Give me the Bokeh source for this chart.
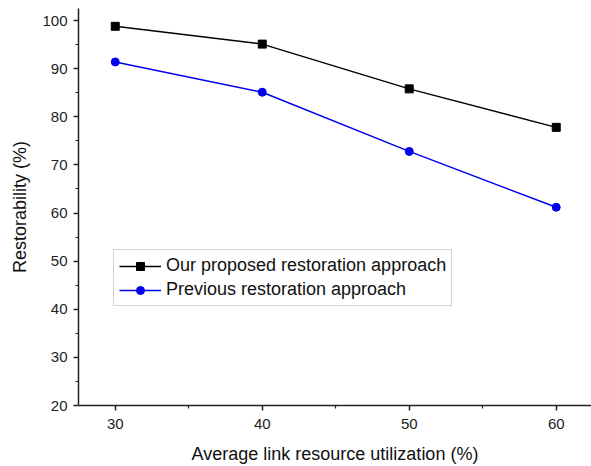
from bokeh.plotting import figure
from bokeh.models import Range1d, FixedTicker, Legend, LegendItem
from bokeh.embed import file_html
from bokeh.resources import INLINE

utilization = [30, 40, 50, 60]
proposed = [98.8, 95.1, 85.8, 77.8]
previous = [91.4, 85.1, 72.8, 61.2]
x_ticks = [30, 40, 50, 60]
x_minor = [35, 45, 55]
y_ticks = [20, 30, 40, 50, 60, 70, 80, 90, 100]
y_minor = [25, 35, 45, 55, 65, 75, 85, 95]

FONT = "Liberation Sans"

p = figure(width=591, height=466, output_backend="svg", toolbar_location=None,
           x_range=Range1d(27.5, 62.4), y_range=Range1d(20, 102.5),
           min_border_left=78, min_border_right=0, min_border_top=8, min_border_bottom=60)
p.outline_line_color = None
p.xgrid.visible = False
p.ygrid.visible = False
p.background_fill_color = "white"
p.border_fill_color = "white"

for ax, t, m in ((p.xaxis[0], x_ticks, x_minor), (p.yaxis[0], y_ticks, y_minor)):
    ax.ticker = FixedTicker(ticks=t, minor_ticks=m)
    ax.axis_line_width = 1.5
    ax.axis_line_color = "#222222"
    ax.major_tick_line_color = "#222222"
    ax.minor_tick_line_color = "#222222"
    ax.major_tick_line_width = 1.5
    ax.minor_tick_line_width = 1.2
    ax.major_tick_out = 5
    ax.major_tick_in = 0
    ax.minor_tick_out = 3
    ax.minor_tick_in = 0
    ax.major_label_text_font = FONT
    ax.major_label_text_font_size = "15px"
    ax.major_label_text_color = "#222222"
    ax.axis_label_text_font = FONT
    ax.axis_label_text_font_size = "18px"
    ax.axis_label_text_font_style = "normal"
    ax.axis_label_text_color = "#111111"

p.xaxis.axis_label = "Average link resource utilization (%)"
p.yaxis.axis_label = "Restorability (%)"
p.xaxis.major_label_standoff = 8
p.yaxis.major_label_standoff = 6
p.xaxis.axis_label_standoff = 12
p.yaxis.axis_label_standoff = 9

l1 = p.line(utilization, proposed, line_color="black", line_width=1.5)
s1 = p.scatter(utilization, proposed, marker="square", size=8, fill_color="black", line_color="black")
l2 = p.line(utilization, previous, line_color="#0000ee", line_width=1.5)
s2 = p.scatter(utilization, previous, marker="circle", size=8, fill_color="#0000ee", line_color="#0000ee")

legend = Legend(items=[
    LegendItem(label="Our proposed restoration approach", renderers=[l1, s1]),
    LegendItem(label="Previous restoration approach", renderers=[l2, s2]),
], location=(35, 99))
legend.label_text_font = FONT
legend.label_text_font_size = "18px"
legend.label_text_color = "#111111"
legend.border_line_color = "#aaaaaa"
legend.border_line_width = 1
legend.glyph_width = 42
legend.glyph_height = 20
legend.label_height = 20
legend.label_standoff = 5
legend.spacing = 3
legend.padding = 5
legend.margin = 0
legend.background_fill_alpha = 1
p.add_layout(legend, "center")

open("out.html", "w").write(file_html(p, INLINE))
